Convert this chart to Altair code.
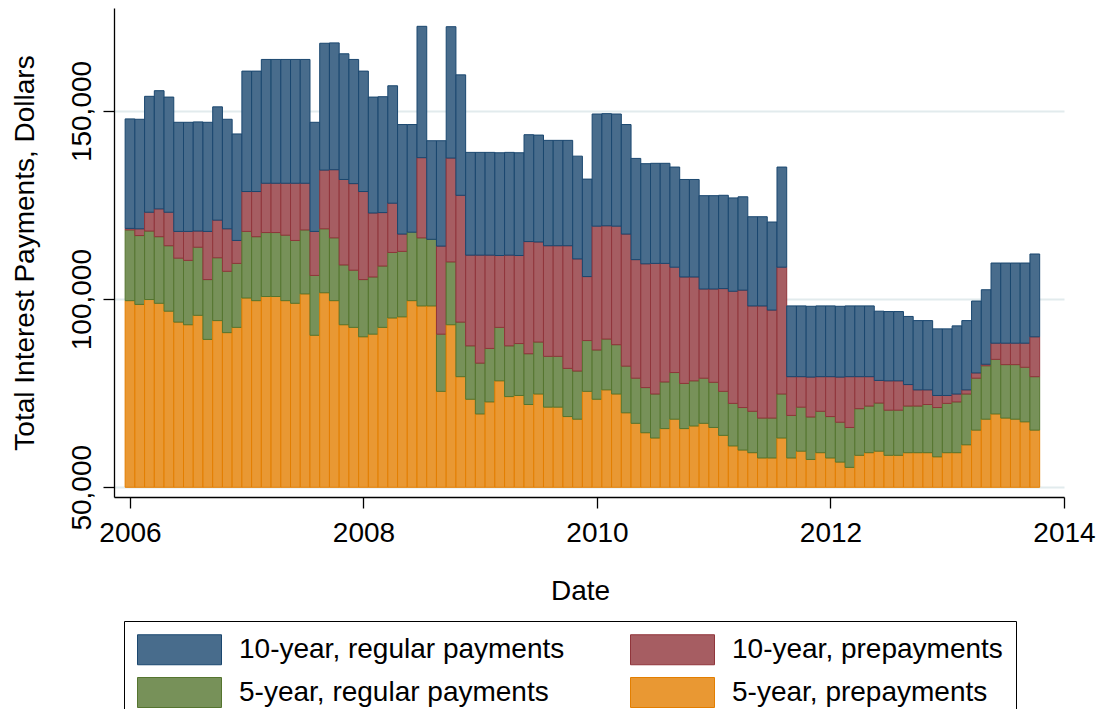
import altair as alt
import pandas as pd

FONT = "Liberation Sans, Arial, sans-serif"

series_names = [
    "10-year, regular payments",
    "10-year, prepayments",
    "5-year, regular payments",
    "5-year, prepayments",
]
fill_colors = ["#486c8c", "#a65d62", "#779159", "#e99833"]
stroke_colors = ["#1a476f", "#90353b", "#55752f", "#e37e00"]
# legend fills its two columns top-to-bottom
legend_order = [0, 2, 1, 3]

# monthly observations, 2006m1 .. 2013m10
months = [f"{2006 + i // 12}-{i % 12 + 1:02d}" for i in range(94)]

five_prepay = [
    99600, 98600, 99900, 98900, 96800, 93900, 93200, 95700, 89300, 94300, 91100, 92500,
    100300, 99600, 100700, 100700, 99600, 98900, 101400, 90400, 101700, 99600, 93200, 92500,
    90000, 90700, 92500, 95000, 95300, 99600, 98200, 98200, 75500, 93200, 79400, 73400,
    69500, 72700, 78300, 74100, 74400, 72000, 74800, 71300, 71300, 68800, 68100, 75500,
    73400, 75900, 74800, 69800, 67000, 64500, 63100, 65600, 68100, 65600, 66300, 67000,
    65900, 63800, 61000, 59900, 59200, 57800, 57800, 63100, 57800, 59600, 57400, 59200,
    57800, 56700, 55300, 58500, 59200, 59600, 58500, 58500, 59200, 59200, 59200, 58100,
    59200, 59200, 61300, 65200, 68100, 69500, 68400, 68100, 67400, 65200,
]
five_regular = [
    18800, 18300, 18200, 17700, 17400, 17000, 17100, 18100, 15900, 16700, 16300, 17000,
    17700, 17000, 17000, 17000, 17400, 16700, 17000, 15900, 17000, 16700, 15900, 15200,
    15200, 15200, 16300, 17400, 17400, 18200, 18100, 17700, 15200, 16700, 14500, 14200,
    13500, 14200, 14200, 13500, 13800, 13500, 13800, 13500, 13500, 12800, 12800, 13500,
    13100, 13500, 13100, 12400, 12000, 12000, 11700, 12400, 12400, 12000, 12000, 12000,
    12000, 11700, 11300, 11300, 11000, 10600, 10600, 11700, 11300, 11700, 11300, 11000,
    11000, 10600, 10600, 12400, 12400, 12800, 12000, 12000, 12400, 12400, 12800, 13100,
    13100, 13500, 13500, 13800, 14200, 14500, 14200, 14500, 14500, 14200,
]
ten_prepay = [
    400, 1800, 5000, 7400, 8900, 7100, 7700, 4300, 12800, 10000, 11300, 6100,
    10600, 12000, 13100, 13100, 13800, 15200, 12400, 11700, 15600, 18100, 22700, 23000,
    23400, 17000, 14200, 13100, 4600, 0, 21300, 0, 23400, 27600, 33700, 24100,
    28700, 24800, 19100, 24100, 23400, 29800, 26600, 29400, 29400, 32600, 29800, 17000,
    32900, 30100, 31500, 35100, 31500, 32900, 34700, 31500, 28000, 28300, 27600, 23700,
    24800, 27300, 29800, 31200, 28000, 29800, 28700, 33700, 10300, 8100, 10600, 9200,
    10600, 12000, 13500, 8500, 7800, 6000, 7800, 7800, 5700, 4300, 3900, 3200,
    2100, 2100, 1100, 1400, 400, 4300, 5700, 5700, 6400, 10600,
]
ten_regular = [
    29100, 29100, 30800, 31400, 30600, 29000, 29000, 29000, 29000, 30100, 29100, 28300,
    32000, 32000, 32900, 32900, 32900, 32900, 32900, 29000, 33700, 33700, 33400, 33000,
    32000, 30800, 30800, 31200, 29100, 28600, 34900, 26200, 28000, 34900, 32000, 27300,
    27300, 27300, 27300, 27300, 27300, 28400, 28400, 28000, 28000, 28000, 27300, 25900,
    29800, 29800, 29800, 29100, 26900, 26600, 26600, 26600, 26600, 25900, 25900, 24800,
    24800, 24800, 24800, 24800, 23700, 23700, 23400, 26600, 18800, 18800, 18800, 18800,
    18800, 18800, 18800, 18800, 18800, 18400, 18400, 18400, 18100, 18400, 18400, 17700,
    17700, 18100, 18400, 19100, 19800, 21300, 21300, 21300, 21300, 22000,
]

y_base = 50000
x_ticks = [2006, 2008, 2010, 2012, 2014]
y_ticks = [50000, 100000, 150000]

rows = []
for i, m in enumerate(months):
    yr, mo = int(m[:4]), int(m[5:])
    t = yr + (mo - 1) / 12
    top = five_prepay[i]
    rows.append(dict(series=series_names[3], t0=t - 1 / 24, t1=t + 1 / 24, lo=y_base, hi=top))
    for name, vals in [
        (series_names[2], five_regular),
        (series_names[1], ten_prepay),
        (series_names[0], ten_regular),
    ]:
        lo = top
        top = top + vals[i]
        if vals[i] > 0:
            rows.append(dict(series=name, t0=t - 1 / 24, t1=t + 1 / 24, lo=lo, hi=top))
df = pd.DataFrame(rows)

dom = [series_names[k] for k in legend_order]
fills = [fill_colors[k] for k in legend_order]
strokes = [stroke_colors[k] for k in legend_order]

leg = alt.Legend(
    title=None,
    orient="none",
    legendX=10,
    legendY=613,
    columns=2,
    symbolType="M-2.8,-1H2.8V1H-2.8Z",
    symbolSize=900,
    symbolOffset=27,
    symbolStrokeWidth=1,
    symbolOpacity=1,
    labelFontSize=28,
    labelFont=FONT,
    labelColor="black",
    labelOffset=44,
    labelLimit=600,
    columnPadding=63,
    rowPadding=8,
    padding=13,
    strokeColor="black",
    fillColor="white",
)

chart = (
    alt.Chart(df)
    .mark_bar(strokeWidth=1, opacity=1)
    .encode(
        x=alt.X(
            "t0:Q",
            scale=alt.Scale(domain=[2005.863, 2014.0], nice=False, zero=False),
            axis=alt.Axis(
                values=x_ticks,
                format="d",
                grid=False,
                tickSize=11,
                tickColor="black",
                tickWidth=1.3,
                domainColor="black",
                domainWidth=1.3,
                labelFont=FONT,
                labelFontSize=28,
                labelColor="black",
                labelBaseline="alphabetic",
                labelPadding=33,
                labelFlush=False,
                labelOverlap=False,
                title="Date",
                titleFont=FONT,
                titleFontSize=28,
                titleFontWeight="normal",
                titleColor="black",
                titleBaseline="alphabetic",
                titleY=102,
                titleX=466,
            ),
        ),
        x2="t1:Q",
        y=alt.Y(
            "hi:Q",
            scale=alt.Scale(domain=[47420, 177370], nice=False, zero=False),
            axis=alt.Axis(
                values=y_ticks,
                format=",d",
                grid=True,
                gridColor="#e2ebed",
                gridWidth=2,
                tickSize=11,
                tickColor="black",
                tickWidth=1.3,
                domainColor="black",
                domainWidth=1.3,
                labelFont=FONT,
                labelFontSize=28,
                labelColor="black",
                labelAngle=270,
                labelAlign="center",
                labelBaseline="alphabetic",
                labelPadding=13,
                labelOverlap=False,
                title="Total Interest Payments, Dollars",
                titleFont=FONT,
                titleFontSize=28,
                titleFontWeight="normal",
                titleColor="black",
                titleBaseline="alphabetic",
                titleAngle=270,
                titleX=-81,
            ),
        ),
        y2="lo:Q",
        fill=alt.Fill("series:N", scale=alt.Scale(domain=dom, range=fills), legend=leg),
        stroke=alt.Stroke("series:N", scale=alt.Scale(domain=dom, range=strokes), legend=leg),
    )
    .properties(
        width=950,
        height=489,
        autosize=alt.AutoSizeParams(type="none"),
        padding={"left": 106, "top": 0, "right": 33, "bottom": 212},
        background="white",
    )
    .configure_view(stroke=None)
)

chart.save("out.html", embed_options={"renderer": "svg", "actions": False})
